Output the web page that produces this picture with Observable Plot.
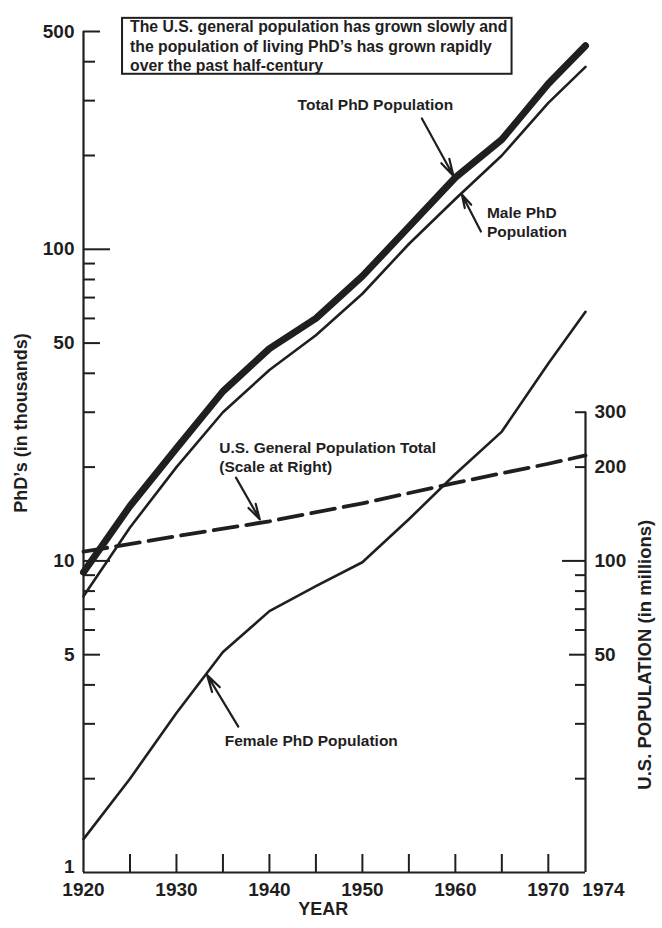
<!DOCTYPE html>
<html>
<head>
<meta charset="utf-8">
<script src="https://cdn.jsdelivr.net/npm/d3@7"></script>
<script src="https://cdn.jsdelivr.net/npm/@observablehq/plot@0.6"></script>
<style>
  html, body { margin: 0; padding: 0; background: #fff; }
  #chart svg { display: block; }
</style>
</head>
<body>
<div id="chart"></div>
<script>
// Living PhD population (thousands) by year
const years     = [1920, 1925, 1930, 1935, 1940, 1945, 1950, 1955, 1960, 1965, 1970, 1974];
const totalPhD  = [9.2, 15, 23, 35, 48, 60, 82, 118, 170, 225, 340, 450];
const malePhD   = [7.7, 12.8, 20, 30, 41, 53, 72, 104, 145, 200, 295, 385];
const femalePhD = [1.28, 2.0, 3.25, 5.1, 6.9, 8.3, 9.9, 13.6, 19, 26, 43, 63];

// U.S. general population (millions), read against the right-hand scale
const usPopYears    = [1920, 1930, 1940, 1950, 1960, 1970, 1974];
const usPopMillions = [107, 120, 134, 153, 178, 205, 218];

// Tick values
const leftLabelTicks  = [5, 10, 50, 100, 500];
const leftMinorTicks  = [2, 3, 4, 6, 7, 8, 9, 20, 30, 40, 60, 70, 80, 90, 200, 300, 400];
const rightLabelTicks = [50, 100, 200, 300];
const rightMinorTicks = [20, 30, 40, 60, 70, 80, 90, 200, 300];
const yearLabelTicks  = [1920, 1930, 1940, 1950, 1960, 1970];
const yearMinorTicks  = [1925, 1930, 1935, 1940, 1945, 1950, 1955, 1960, 1965, 1970];

// Callout labels (year, thousands) and their pointer arrows
const centredText   = ["Total PhD Population", "Female PhD Population"];
const centredYear   = [1951.4, 1944.5];
const centredValue  = [290, 2.65];
const leftText      = ["Male PhD\nPopulation", "U.S. General Population Total\n(Scale at Right)"];
const leftYear      = [1963.4, 1934.6];
const leftValue     = [123, 21.6];
const arrowFromYear = [1956.4, 1962.75, 1936.4, 1936.65];
const arrowFromVal  = [263, 114, 18.5, 2.94];
const arrowToYear   = [1959.8, 1960.7, 1938.96, 1933.3];
const arrowToVal    = [172, 150, 13.6, 4.3];

const headline = "The U.S. general population has grown slowly and\nthe population of living PhD\u2019s has grown rapidly\nover the past half-century";

const phd = years.map((year, i) => ({year, total: totalPhD[i], male: malePhD[i], female: femalePhD[i]}));
const usPop = usPopYears.map((year, i) => ({year, pop: usPopMillions[i]}));
const centred = centredText.map((text, i) => ({text, x: centredYear[i], y: centredValue[i]}));
const leftAligned = leftText.map((text, i) => ({text, x: leftYear[i], y: leftValue[i]}));
const arrows = arrowFromYear.map((x1, i) => ({x1, y1: arrowFromVal[i], x2: arrowToYear[i], y2: arrowToVal[i]}));

// right axis (millions) shares the left log scale: 100 million sits at 10 thousand
const toLeft = m => m / 10;

const ink = "#1f1f1f";
const tickW = 2;
const labelSize = 19;

const chart = Plot.plot({
  width: 662,
  height: 928,
  marginLeft: 83,
  marginRight: 77,
  marginTop: 31,
  marginBottom: 56,
  style: {
    fontFamily: "'Liberation Sans', Arial, sans-serif",
    fontWeight: "bold",
    color: ink,
    background: "#fff",
    overflow: "visible"
  },
  x: {domain: [1920, 1974], axis: null},
  y: {type: "log", domain: [1, 500], axis: null},
  marks: [
    // axis lines
    Plot.ruleY([1], {x1: 1920, x2: 1974, stroke: ink, strokeWidth: 2.2}),
    Plot.ruleX([1920], {y1: 1, y2: 500, stroke: ink, strokeWidth: 2.2}),
    Plot.ruleX([1974], {y1: 1, y2: toLeft(300), stroke: ink, strokeWidth: 2.2}),

    // left axis ticks (pointing inward) and labels
    Plot.axisY(leftMinorTicks, {anchor: "left", tickSize: -12, strokeWidth: tickW, stroke: ink, fill: "none", label: null}),
    Plot.axisY([5, 50, 500], {anchor: "left", tickSize: -17, strokeWidth: tickW, stroke: ink, fill: "none", label: null}),
    Plot.axisY([10, 100], {anchor: "left", tickSize: -27, strokeWidth: tickW, stroke: ink, fill: "none", label: null}),
    Plot.axisY(leftLabelTicks, {anchor: "left", tickSize: 0, tickPadding: 9, fontSize: labelSize, fill: ink, label: null}),
    Plot.axisY([1], {anchor: "left", tickSize: 0, tickPadding: 9, fontSize: labelSize, fill: ink, dy: -6, label: null}),

    // right axis ticks and labels (millions)
    Plot.axisY(rightMinorTicks.map(toLeft), {anchor: "right", tickSize: -11, strokeWidth: tickW, stroke: ink, fill: "none", label: null}),
    Plot.axisY([toLeft(50)], {anchor: "right", tickSize: -17, strokeWidth: tickW, stroke: ink, fill: "none", label: null}),
    Plot.axisY([toLeft(100)], {anchor: "right", tickSize: -24, strokeWidth: tickW, stroke: ink, fill: "none", label: null}),
    Plot.axisY(rightLabelTicks.map(toLeft), {anchor: "right", tickSize: 0, tickPadding: 9, fontSize: labelSize, fill: ink, label: null,
      tickFormat: d => String(Math.round(d * 10))}),

    // year axis
    Plot.axisX(yearMinorTicks, {anchor: "bottom", tickSize: -18, strokeWidth: tickW, stroke: ink, fill: "none", label: null}),
    Plot.axisX(yearLabelTicks, {anchor: "bottom", tickSize: 0, tickPadding: 10, fontSize: labelSize, fill: ink, label: null, tickFormat: d => String(d)}),
    Plot.axisX([1974], {anchor: "bottom", tickSize: 0, tickPadding: 10, fontSize: labelSize, fill: ink, label: null, dx: 18, tickFormat: d => String(d)}),

    // axis titles
    Plot.text(["YEAR"], {x: () => 1945.8, y: () => 1, dy: 37, fontSize: 18, fill: ink}),
    Plot.text(["PhD\u2019s (in thousands)"], {x: () => 1920, y: () => 27.7, dx: -62, rotate: -90, fontSize: 18, fill: ink}),
    Plot.text(["U.S. POPULATION (in millions)"], {x: () => 1974, y: () => 5.0, dx: 60, rotate: -90, fontSize: 18.5, fill: ink}),

    // series
    Plot.line(usPop, {x: "year", y: d => toLeft(d.pop), stroke: ink, strokeWidth: 3.8, strokeDasharray: "24 9"}),
    Plot.line(phd, {x: "year", y: "female", stroke: ink, strokeWidth: 2.6, strokeLinejoin: "round"}),
    Plot.line(phd, {x: "year", y: "male", stroke: ink, strokeWidth: 2.6, strokeLinejoin: "round"}),
    Plot.line(phd, {x: "year", y: "total", stroke: ink, strokeWidth: 7, strokeLinejoin: "round", strokeLinecap: "round"}),

    // callouts
    Plot.arrow(arrows, {x1: "x1", y1: "y1", x2: "x2", y2: "y2", stroke: ink, strokeWidth: 2.2, headLength: 12, headAngle: 30}),
    Plot.text(centred, {x: "x", y: "y", text: "text", textAnchor: "middle", fontSize: 15.5, fill: ink}),
    Plot.text(leftAligned, {x: "x", y: "y", text: "text", textAnchor: "start", lineAnchor: "middle", lineHeight: 1.2, fontSize: 15.5, fill: ink}),

    // headline box
    Plot.rect([headline], {x1: () => 1924.2, x2: () => 1966.1, y1: () => 364.5, y2: () => 551, fill: "#fff", stroke: ink, strokeWidth: 2}),
    Plot.text([headline], {x: () => 1925.0, y: () => 451.6, text: d => d, textAnchor: "start", lineAnchor: "middle", lineHeight: 1.25, fontSize: 15.8, fill: ink})
  ]
});

document.getElementById("chart").appendChild(chart);
</script>
</body>
</html>
